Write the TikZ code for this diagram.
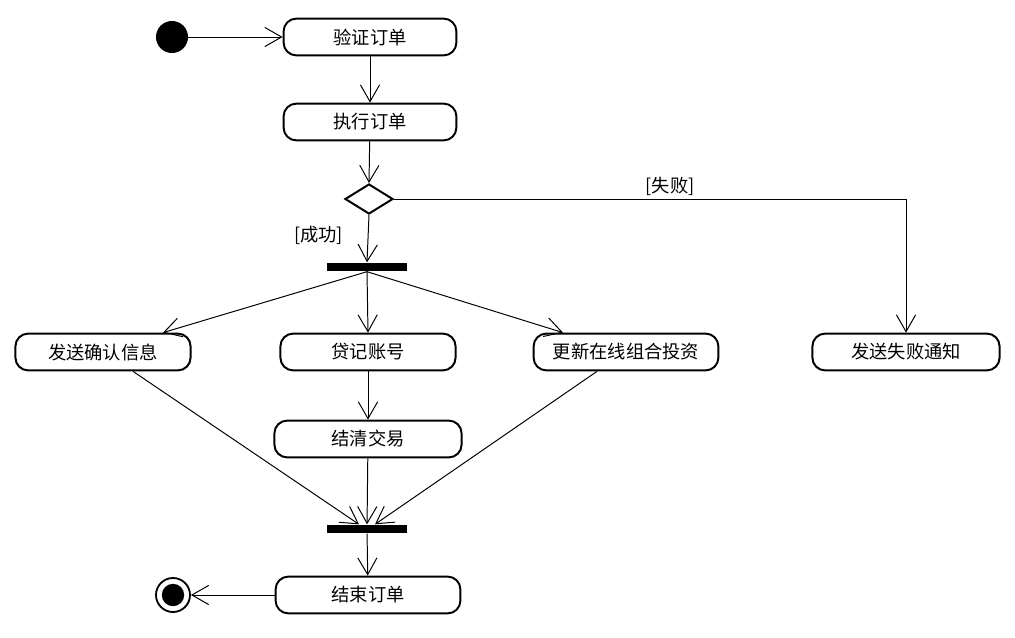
\documentclass[tikz,border=0pt]{standalone}
\usepackage{fontspec}
\setmainfont{Noto Sans CJK SC}
\usetikzlibrary{arrows.meta,shapes.geometric}

\begin{document}
\begin{tikzpicture}[
  x=0.025cm,y=-0.025cm,
  every node/.style={font=\fontsize{13}{15}\selectfont},
  act/.style={draw,line width=1.4pt,rounded corners=0.32cm,minimum height=0.92cm,inner sep=0pt},
  bar/.style={fill=black,minimum width=2cm,minimum height=0.22cm,inner sep=0pt},
  flow/.style={line width=0.7pt,-{Straight Barb[length=0.42cm,width=0.48cm]}},
  plain/.style={line width=0.7pt}
]
\useasboundingbox (0,0) rectangle (1015,638);
% start and top of the flow
\node[circle,fill=black,minimum size=0.8cm,inner sep=0pt] (start) at (172,37) {};
\node[act,minimum width=4.32cm] (check) at (370,37) {验证订单};
\node[act,minimum width=4.32cm] (exec) at (370,122) {执行订单};
\node[diamond,draw,line width=1.4pt,minimum width=1.2cm,minimum height=0.75cm,inner sep=0pt] (dec) at (369,199) {};
\node[bar] (fork) at (367,267) {};
\node[anchor=east] (lsucc) at (348,235) {[成功]};
\node (lfail) at (670,186) {[失败]};
% parallel activities
\node[act,minimum width=4.38cm] (confirm) at (103,352) {发送确认信息};
\node[act,minimum width=4.38cm] (credit) at (368,352) {贷记账号};
\node[act,minimum width=4.62cm] (update) at (626,352) {更新在线组合投资};
\node[act,minimum width=4.68cm] (notify) at (906,352) {发送失败通知};
\node[act,minimum width=4.68cm] (settle) at (368,439) {结清交易};
% join and end
\node[bar] (join) at (367,529) {};
\node[act,minimum width=4.62cm] (finish) at (368,595) {结束订单};
\node[circle,draw,line width=1.3pt,minimum size=0.85cm,inner sep=0pt] (final) at (173,595) {};
\node[circle,fill=black,minimum size=0.56cm,inner sep=0pt] (finaldot) at (final) {};
% connectors
\draw[flow] (start) -- (check.west);
\draw[flow] (check) -- (exec);
\draw[flow] (exec) -- (dec.north);
\draw[flow] (dec.south) -- (fork.north);
\draw[flow] (dec.east) -| (notify.north);
\draw[flow] (fork.south) -- ([xshift=1.5cm]confirm.north);
\draw[flow] (fork.south) -- (credit.north);
\draw[flow] (fork.south) -- ([xshift=-1.575cm]update.north);
\draw[flow] (credit) -- (settle);
\draw[flow] ([xshift=0.75cm]confirm.south) -- ([xshift=-0.2cm]join.north);
\draw[flow] (settle) -- (join);
\draw[flow] ([xshift=-0.725cm]update.south) -- ([xshift=0.2cm]join.north);
\draw[flow] (join) -- (finish);
\draw[flow] (finish.west) -- (final.east);
\end{tikzpicture}
\end{document}
